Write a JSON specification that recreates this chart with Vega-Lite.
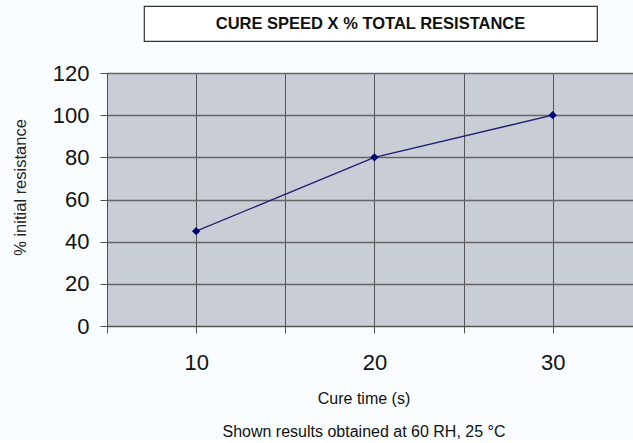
{
  "$schema": "https://vega.github.io/schema/vega-lite/v6.json",
  "background": "#f9fdff",
  "padding": {"left": 12, "top": 5, "right": 0, "bottom": 0},
  "autosize": {"type": "pad"},
  "bounds": "flush",
  "center": true,
  "spacing": 32,
  "config": {"font": "Liberation Sans", "view": {"stroke": null}},
  "vconcat": [
    {
      "width": 453,
      "height": 35,
      "data": {"values": [{"title": "CURE SPEED X % TOTAL RESISTANCE"}]},
      "view": {"stroke": "#333333", "strokeWidth": 1.2, "fill": "#ffffff"},
      "mark": {"type": "text", "fontSize": 16.5, "fontWeight": "bold", "color": "#111111"},
      "encoding": {"text": {"field": "title", "type": "nominal"}}
    },
    {
      "width": 527,
      "height": 253,
      "data": {"values": [
        {"cure_time": 10, "resistance": 45},
        {"cure_time": 20, "resistance": 80},
        {"cure_time": 30, "resistance": 100}
      ]},
      "view": {"fill": "#c9cdd5", "stroke": null},
      "mark": {"type": "line", "color": "#1f1f70", "strokeWidth": 1.3,
               "point": {"shape": "diamond", "size": 70, "filled": true, "color": "#00007d"}},
      "encoding": {
        "x": {
          "field": "cure_time", "type": "quantitative",
          "scale": {"domain": [5, 34.56], "nice": false, "zero": false},
          "axis": {
            "values": [5, 10, 15, 20, 25, 30],
            "labelExpr": "datum.value % 10 === 0 ? datum.label : ''",
            "labelFlush": false, "labelOverlap": false,
            "grid": true, "gridColor": "#555555", "gridOpacity": 1, "gridWidth": 1,
            "domainColor": "#505050", "tickColor": "#505050", "tickSize": 7,
            "labelFontSize": 22, "labelPadding": 19, "labelColor": "#111111",
            "title": ["Cure time (s)", "Shown results obtained at 60 RH, 25 °C"],
            "titleFontSize": 16, "titleFontWeight": "normal", "titleColor": "#111111",
            "titleX": 256.5, "titleY": 77, "titleBaseline": "alphabetic", "titleAlign": "center",
            "titleLineHeight": 33.5
          }
        },
        "y": {
          "field": "resistance", "type": "quantitative",
          "scale": {"domain": [0, 120], "nice": false},
          "axis": {
            "values": [0, 20, 40, 60, 80, 100, 120],
            "grid": true, "gridColor": "#666666", "gridOpacity": 1, "gridWidth": 1.3,
            "domainColor": "#505050", "tickColor": "#505050", "tickSize": 7,
            "labelFontSize": 22, "labelPadding": 11, "labelColor": "#111111",
            "title": "% initial resistance",
            "titleFontSize": 16.5, "titleFontWeight": "normal", "titleColor": "#222222",
            "titleX": -82, "titleY": 114, "titleBaseline": "alphabetic", "titleAlign": "center", "titleAngle": 270
          }
        }
      }
    }
  ]
}
